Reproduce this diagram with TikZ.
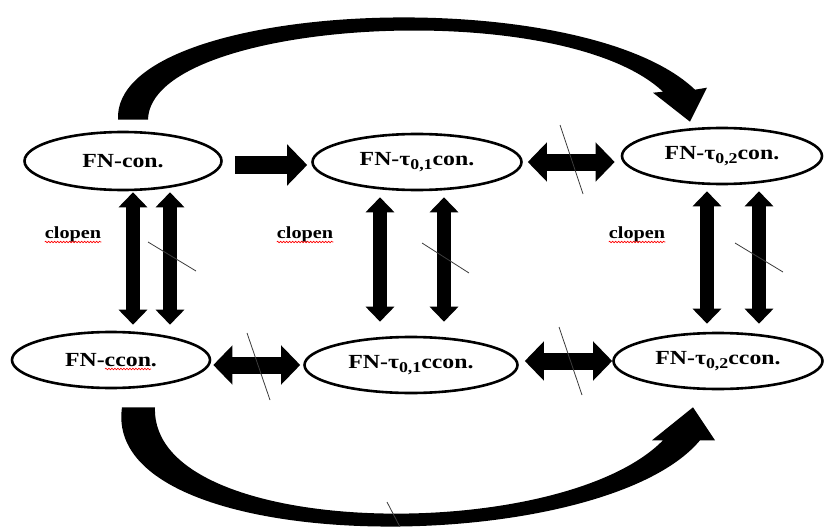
\documentclass[tikz,border=0pt]{standalone}
\usepackage{fontspec}
\setmainfont{Liberation Serif}[FakeStretch=1.19]
\usetikzlibrary{shapes,arrows.meta,decorations.pathmorphing}
\newcommand{\tsub}[1]{\raisebox{-4pt}{\fontsize{15}{15}\selectfont #1}}
\tikzset{
	oval/.style={draw,ellipse,line width=2.6pt,inner sep=0pt,font=\fontsize{20}{24}\selectfont\bfseries},
	fatone/.style={line width=18pt,-{Triangle[length=20pt,width=40pt]}},
	fattwo/.style={line width=17pt,{Triangle[length=19pt,width=38pt]}-{Triangle[length=19pt,width=38pt]}},
	updown/.style={line width=14pt,{Triangle[length=15pt,width=28pt]}-{Triangle[length=15pt,width=28pt]}},
	notmark/.style={line width=0.8pt,slashgray},
	cltext/.style={anchor=base,inner sep=0pt,font=\fontsize{17}{20}\selectfont\bfseries},
	spell/.style={red,line width=0.6pt,decorate,decoration={snake,amplitude=0.8pt,segment length=3pt}}
}
\begin{document}
\begin{tikzpicture}[x=1pt,y=-1pt]
	\definecolor{slashgray}{HTML}{3C3C3C}
	\useasboundingbox (0,0) rectangle (825,527);
	\node[oval,minimum width=197pt,minimum height=58pt] (con) at (123,161) {FN-con.};
	\node[oval,minimum width=209pt,minimum height=56pt] (t1con) at (417,162) {FN-τ\tsub{0,1}con.};
	\node[oval,minimum width=200pt,minimum height=56pt] (t2con) at (722,156) {FN-τ\tsub{0,2}con.};
	\node[oval,minimum width=198pt,minimum height=56pt] (ccon) at (111,360) {FN-ccon.};
	\node[oval,minimum width=213pt,minimum height=56pt] (t1ccon) at (411,365) {FN-τ\tsub{0,1}ccon.};
	\node[oval,minimum width=209pt,minimum height=56pt] (t2ccon) at (718,361) {FN-τ\tsub{0,2}ccon.};
	\node[cltext] (cl1) at (73,238) {clopen};
	\node[cltext] (cl2) at (305,238) {clopen};
	\node[cltext] (cl3) at (637,238) {clopen};
	\draw[spell] ([yshift=-4pt]cl1.base west) -- ([yshift=-4pt]cl1.base east);
	\draw[spell] ([yshift=-4pt]cl2.base west) -- ([yshift=-4pt]cl2.base east);
	\draw[spell] ([yshift=-4pt]cl3.base west) -- ([yshift=-4pt]cl3.base east);
	\draw[spell] ([shift={(-6,9)}]ccon.center) -- ([shift={(40,9)}]ccon.center);

	\draw[fatone,shorten <=12pt,shorten >=4pt] ([yshift=-4pt]con.east) -- ([yshift=-4pt]con.east -| t1con.west);
	\draw[fattwo,shorten <=5pt,shorten >=6pt] (t1con.east) -- (t1con.east -| t2con.west);
	\draw[fattwo,shorten <=2pt,shorten >=3pt] (ccon.east |- t1ccon.west) -- (t1ccon.west);
	\draw[fattwo,shorten <=6pt,shorten >=0pt] (t1ccon.east |- t2ccon.west) -- (t2ccon.west);

	\draw[updown,shorten <=1pt,shorten >=6pt] ([xshift=10pt]con.south) -- ([xshift=10pt]con.south |- ccon.north);
	\draw[updown,shorten <=1pt,shorten >=6pt] ([xshift=47pt]con.south) -- ([xshift=47pt]con.south |- ccon.north);
	\draw[updown,shorten <=6pt,shorten >=14pt] ([xshift=-37pt]t1con.south) -- ([xshift=-37pt]t1con.south |- t1ccon.north);
	\draw[updown,shorten <=6pt,shorten >=14pt] ([xshift=27pt]t1con.south) -- ([xshift=27pt]t1con.south |- t1ccon.north);
	\draw[updown,shorten <=6pt,shorten >=8pt] ([xshift=-15pt]t2con.south) -- ([xshift=-15pt]t2con.south |- t2ccon.north);
	\draw[updown,shorten <=6pt,shorten >=8pt] ([xshift=37pt]t2con.south) -- ([xshift=37pt]t2con.south |- t2ccon.north);

	\fill ([shift={(-5,-11)}]con.north) .. controls +(-6,-120) and +(-115,-110) .. ([shift={(-27,-37)}]t2con.north) -- ([shift={(-15,-39)}]t2con.north) -- ([shift={(-32,-5)}]t2con.north) -- ([shift={(-69,-34)}]t2con.north) -- ([shift={(-59,-35)}]t2con.north) .. controls +(-103,-97) and +(2,-100) .. ([shift={(25,-11)}]con.north) -- cycle;
	\fill ([shift={(11,18)}]ccon.south) .. controls +(-22,153) and +(-100,120) .. ([shift={(-18,50)}]t2ccon.south) -- ([shift={(-3,50)}]t2ccon.south) -- ([shift={(-25,17)}]t2ccon.south) -- ([shift={(-66,50)}]t2ccon.south) -- ([shift={(-55,50)}]t2ccon.south) .. controls +(-103,105) and +(-5,133) .. ([shift={(44,18)}]ccon.south) -- cycle;

	\draw[notmark] (148,242) -- (196,271);
	\draw[notmark] (422,243) -- (469,273);
	\draw[notmark] (735,243) -- (783,272);
	\draw[notmark] (560,125) -- (583,194);
	\draw[notmark] (247,333) -- (270,400);
	\draw[notmark] (559,327) -- (582,395);
	\draw[notmark] (387,502) -- (400,527);
\end{tikzpicture}
\end{document}
